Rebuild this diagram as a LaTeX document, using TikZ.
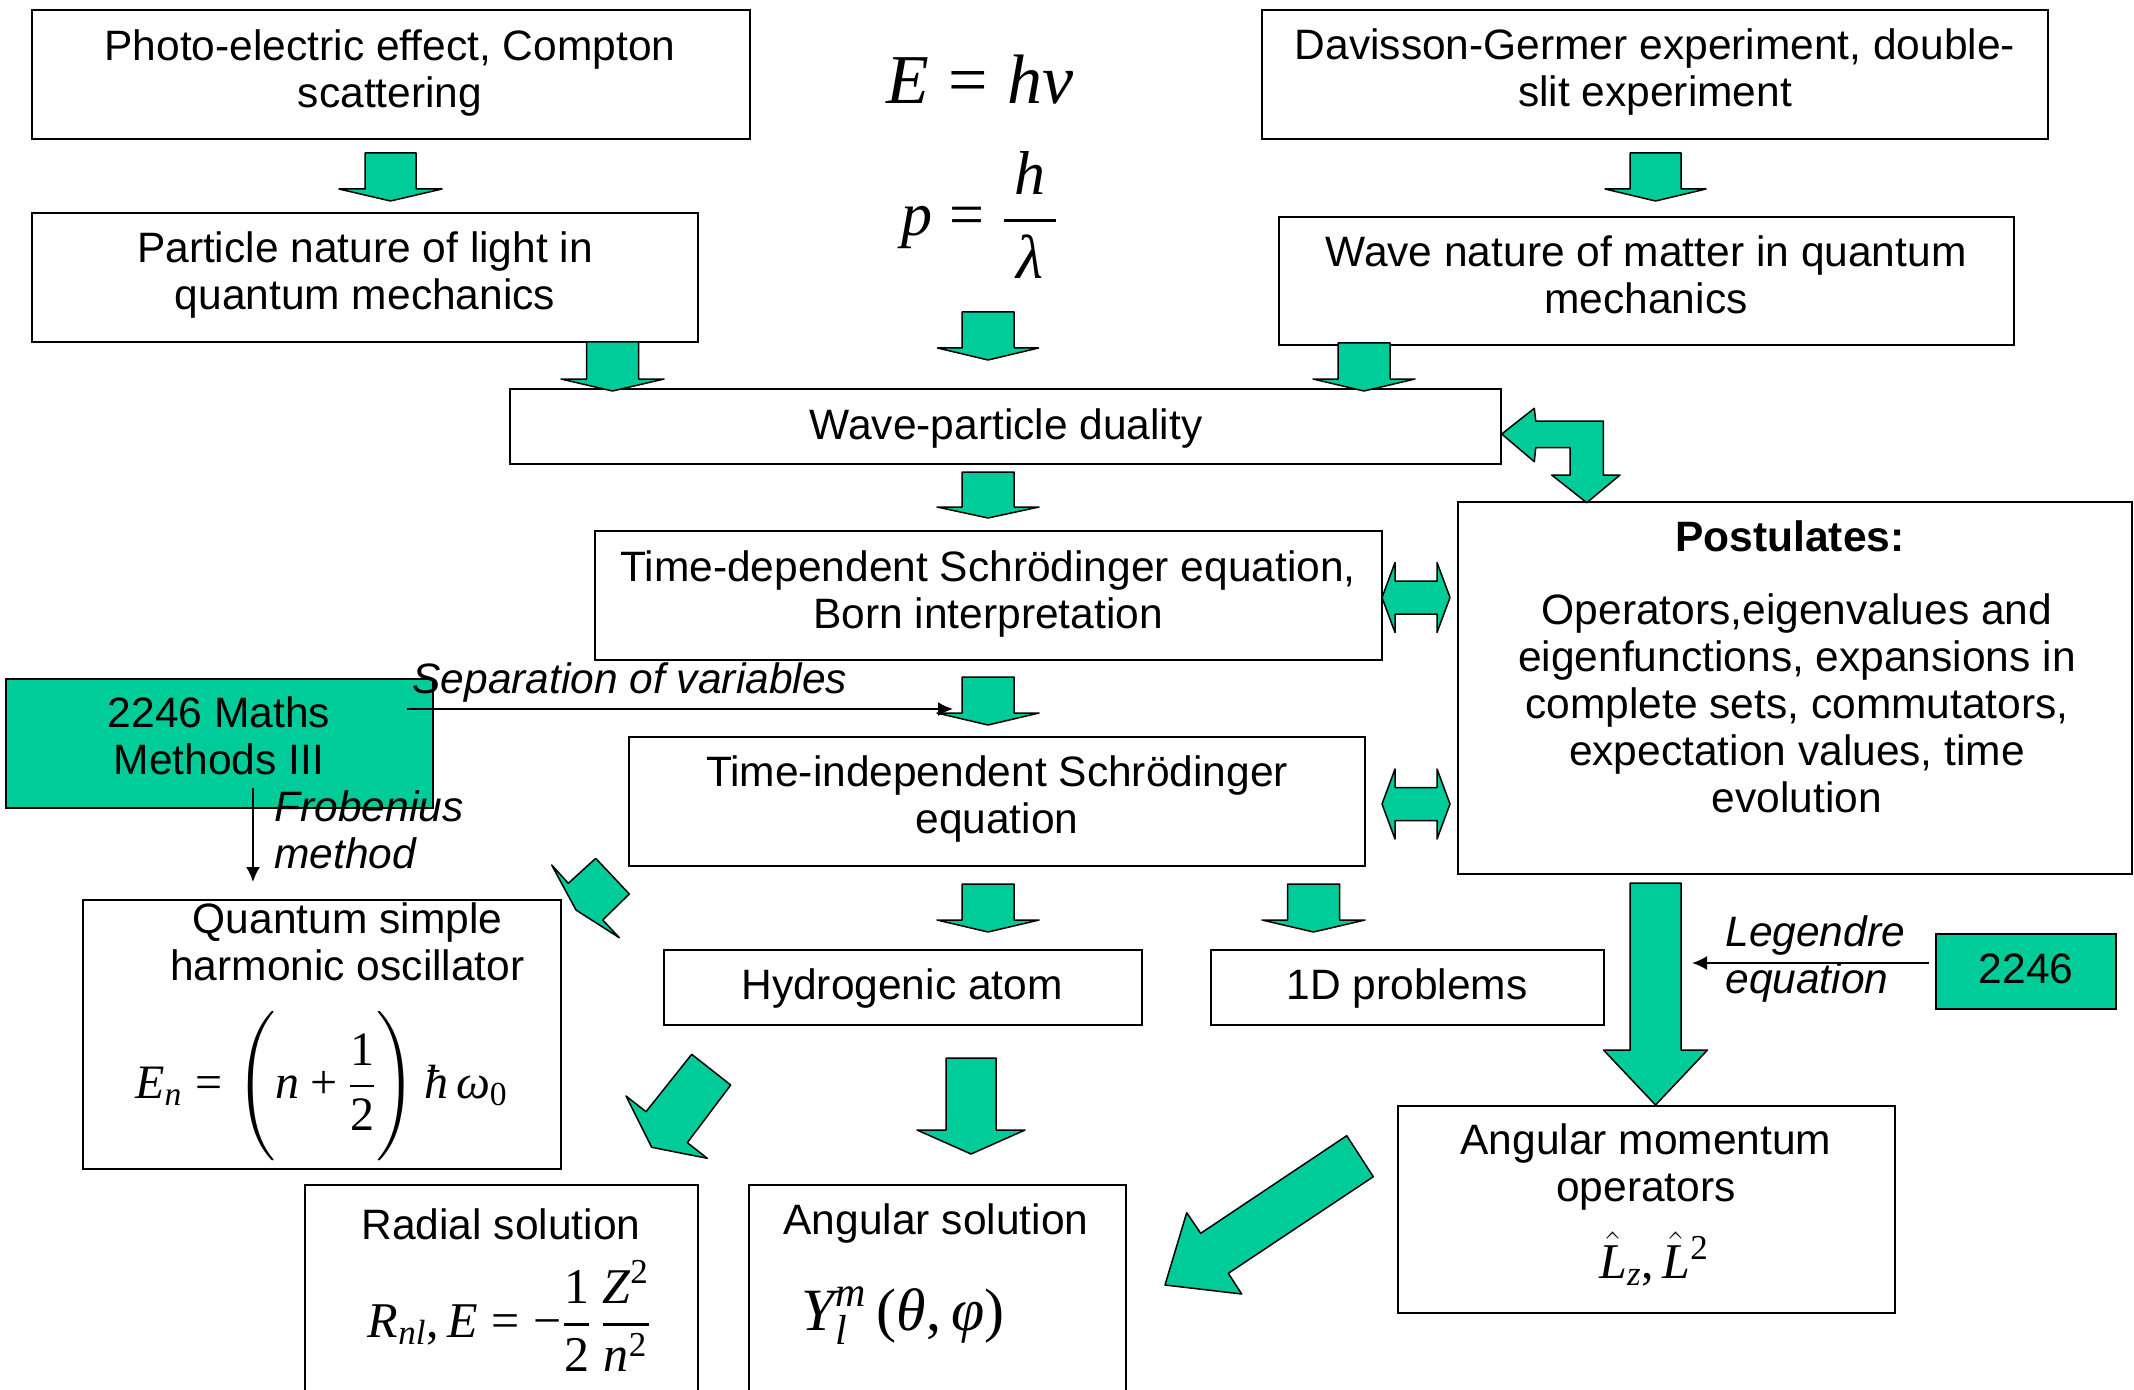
\RequirePackage{fix-cm}
\documentclass[tikz,border=0pt]{standalone}
\usepackage{amsmath}
\usepackage[no-math]{fontspec}
\setmainfont{Liberation Sans}
\newfontfamily\tms{Liberation Serif}
\usetikzlibrary{arrows.meta}
\definecolor{qgreen}{RGB}{0,204,153}
\newcommand\fs{\fontsize{21.25}{23.5}\selectfont}
\newcommand\mi[1]{\text{\tms\itshape #1}}
\newcommand\mr[1]{\text{\tms #1}}
\newcommand\bx[6][bx]{\node[#1, minimum width={(#5-#3)*0.5pt}, minimum height={(#6-#4)*0.5pt}] (#2) at ({(#3+#5)/2},{(#4+#6)/2}) {};}
\newcommand\dnarr[6]{\draw[garr] ({#1-#5},#2) -- ({#1+#5},#2) -- ({#1+#5},#3) -- ({#1+#6},#3) -- (#1,#4) -- ({#1-#6},#3) -- ({#1-#5},#3) -- cycle;}
\newcommand\lrarr[6]{\draw[garr] (#2,#1) -- ({#2+#4},{#1-#6}) -- ({#2+#4},{#1-#5}) -- ({#3-#4},{#1-#5}) -- ({#3-#4},{#1-#6}) -- (#3,#1) -- ({#3-#4},{#1+#6}) -- ({#3-#4},{#1+#5}) -- ({#2+#4},{#1+#5}) -- ({#2+#4},{#1+#6}) -- cycle;}
\begin{document}
\begin{tikzpicture}[x=0.5pt, y=-0.5pt,
  bx/.style={draw, line width=1pt, inner sep=0pt},
  gbx/.style={bx, fill=qgreen},
  txt/.style={align=center, inner sep=0pt, font=\fs, yshift=-0.75pt},
  itx/.style={align=left, inner sep=0pt, font=\fs\itshape, anchor=west, yshift=-0.75pt},
  garr/.style={draw, fill=qgreen, line width=0.75pt, line join=round},
  blk/.style={line width=1pt, -{Latex[length=7.5pt,width=7pt]}},
  fm/.style={inner sep=0pt, anchor=base}]
\useasboundingbox (0,0) rectangle (2134,1390);
% boxes
\bx{b1}{31.5}{10.5}{749.5}{139}
\bx{b2}{1262}{10.5}{2048}{139}
\bx{b3}{31.5}{213}{698}{342}
\bx{b4}{1279}{217}{2014}{345}
\bx{b5}{510}{389}{1501}{464}
\bx{b6}{595}{531}{1382}{660}
\bx{b7}{1458}{502}{2131.5}{874}
\bx[gbx]{b8}{6}{679}{433}{808}
\bx{b9}{629}{737}{1365}{866}
\bx{b10}{83}{900}{561}{1169}
\bx{b11}{664}{950}{1142}{1025}
\bx{b12}{1211}{950}{1604}{1025}
\bx[gbx]{b13}{1936}{934}{2116}{1009}
\bx{b14}{1398}{1106}{1895}{1313}
\bx{b15}{305}{1185}{698}{1420}
\bx{b16}{749}{1185}{1126}{1420}
% texts
\node[txt] (t1) at (390,73) {\strut Photo-electric effect, Compton\\\strut scattering};
\node[txt] (t2) at (1655,72.5) {\strut Davisson-Germer experiment, double-\\\strut slit experiment};
\node[txt] (t3) at (365,275.5) {\strut Particle nature of light in\\\strut quantum mechanics};
\node[txt] (t4) at (1646,279) {\strut Wave nature of matter in quantum\\\strut mechanics};
\node[txt] (t5) at (1006,428.5) {\strut Wave-particle duality};
\node[txt] (t6) at (988,594) {\strut Time-dependent Schrödinger equation,\\\strut Born interpretation};
\node[txt, font=\fs\bfseries] (t7a) at (1790,540.5) {\strut Postulates:};
\node[txt] (t7b) at (1797,707.5) {\strut Operators,eigenvalues and\\\strut eigenfunctions, expansions in\\\strut complete sets, commutators,\\\strut expectation values, time\\\strut evolution};
\node[txt] (t8) at (219,740.5) {\strut 2246 Maths\\\strut Methods III};
\node[txt] (t9) at (997,799) {\strut Time-independent Schrödinger\\\strut equation};
\node[txt] (t10) at (347.5,946.5) {\strut Quantum simple\\\strut harmonic oscillator};
\node[txt] (t11) at (902,988.5) {\strut Hydrogenic atom};
\node[txt] (t12) at (1407,988.5) {\strut 1D problems};
\node[txt] (t13) at (2026,972.5) {\strut 2246};
\node[txt] (t14) at (1646,1167) {\strut Angular momentum\\\strut operators};
\node[txt] (t15) at (501,1228.5) {\strut Radial solution};
\node[txt] (t16) at (936,1223.5) {\strut Angular solution};
\node[itx] (sep) at (412,682.5) {\strut Separation of variables};
\node[itx] (frob) at (274,834) {\strut Frobenius\\\strut method};
\node[itx] (leg) at (1725,959) {\strut Legendre\\\strut equation};
% formulas
\node[fm, font=\fontsize{35}{40}\selectfont] (f1) at (980,104) {$\mi{E}\mathrel{\mr{=}}\mi{hν}$};
\node[fm, font=\fontsize{31}{36}\selectfont] (f2) at (980,236) {$\displaystyle \mi{p}\mathrel{\mr{=}}\genfrac{}{}{1.6pt}{0}{\,\mi{h}\,}{\,\mi{λ}\,}$};
\node[fm, font=\fontsize{24}{28}\selectfont] (f3) at (321.5,1098) {$\displaystyle \mi{E}_{\mi{n}}\mathrel{\mr{=}}\left(\rule[-30pt]{0pt}{72pt}\mi{n}\mathbin{\mr{+}}\genfrac{}{}{1.2pt}{0}{\mr{1}}{\mr{2}}\right)\mi{ħ}\,\mi{ω}_{\mr{0}}$};
\node[fm, font=\fontsize{25}{30}\selectfont] (f4) at (509.5,1337) {$\displaystyle \mi{R}_{\mi{nl}}\mr{,}\,\mi{E}\mathrel{\mr{=}}\mr{−}\genfrac{}{}{1.2pt}{0}{\mr{1}}{\mr{2}}\,\genfrac{}{}{1.2pt}{0}{\mi{Z}^{\mr{2}}}{\mi{n}^{\mr{2}}}$};
\node[fm, font=\fontsize{30}{35}\selectfont] (f5) at (903,1330) {$\mi{Y}_{\mi{l}}^{\mi{m}}\,\mr{(}\mi{θ}\mr{,}\,\mi{φ}\mr{)}$};
\node[fm, font=\fontsize{25}{30}\selectfont] (f6) at (1654,1278) {$\hat{\mi{L}}_{\mi{z}}\mr{,}\,\smash[t]{\hat{\mi{L}}}^{\mr{2}}$};
% green block arrows
\dnarr{390.5}{153}{189}{201}{25.5}{51.5}
\dnarr{612.5}{342}{379}{391}{26}{51.5}
\dnarr{988}{312}{348}{360}{26}{50.5}
\dnarr{1655.5}{153}{189}{201}{25.5}{50.5}
\dnarr{1364}{343}{379}{391}{26}{51}
\dnarr{988}{472}{507}{518}{26}{51}
\dnarr{988}{677}{713}{725}{26}{51}
\dnarr{988}{884}{920}{932}{26}{51}
\dnarr{1313.5}{884}{920}{932}{26}{51.5}
\dnarr{1655.5}{883}{1050}{1105}{25.5}{52}
\dnarr{971}{1058}{1130}{1154}{25}{54}
\lrarr{597.5}{1382}{1450}{13}{16.5}{35}
\lrarr{804}{1382}{1450}{13}{16.5}{35}
\draw[garr] (1501.7,434) -- (1534.3,408.3) -- (1535.7,421) -- (1603.3,421) -- (1603.3,475) -- (1620,475) -- (1586.7,502.7) -- (1551.7,475) -- (1570,475) -- (1570,447.7) -- (1535.7,447.7) -- (1534.3,461.7) -- cycle;
\draw[garr] (551.7,865) -- (568.3,883.3) -- (595.7,858.3) -- (629.3,894) -- (602.7,920) -- (619.3,937.7) -- (576,910) -- cycle;
\draw[garr] (691.7,1054.3) -- (730.7,1085) -- (687.3,1142.7) -- (707.3,1158.3) -- (651.7,1147.3) -- (626,1096) -- (646,1111.7) -- cycle;
\draw[garr] (1346.7,1135.7) -- (1373.3,1176.7) -- (1228.3,1273.3) -- (1241.7,1294) -- (1165,1285) -- (1186.7,1212.7) -- (1200.7,1233.3) -- cycle;
% black arrows
\coordinate (s1) at (407,709);
\coordinate (s2) at (953,709);
\draw[blk] (s1) -- (s2);
\coordinate (fr1) at (253,788);
\coordinate (fr2) at (253,882);
\draw[blk] (fr1) -- (fr2);
\coordinate (lg1) at (1929,963);
\coordinate (lg2) at (1692,963);
\draw[blk] (lg1) -- (lg2);
\end{tikzpicture}
\end{document}
